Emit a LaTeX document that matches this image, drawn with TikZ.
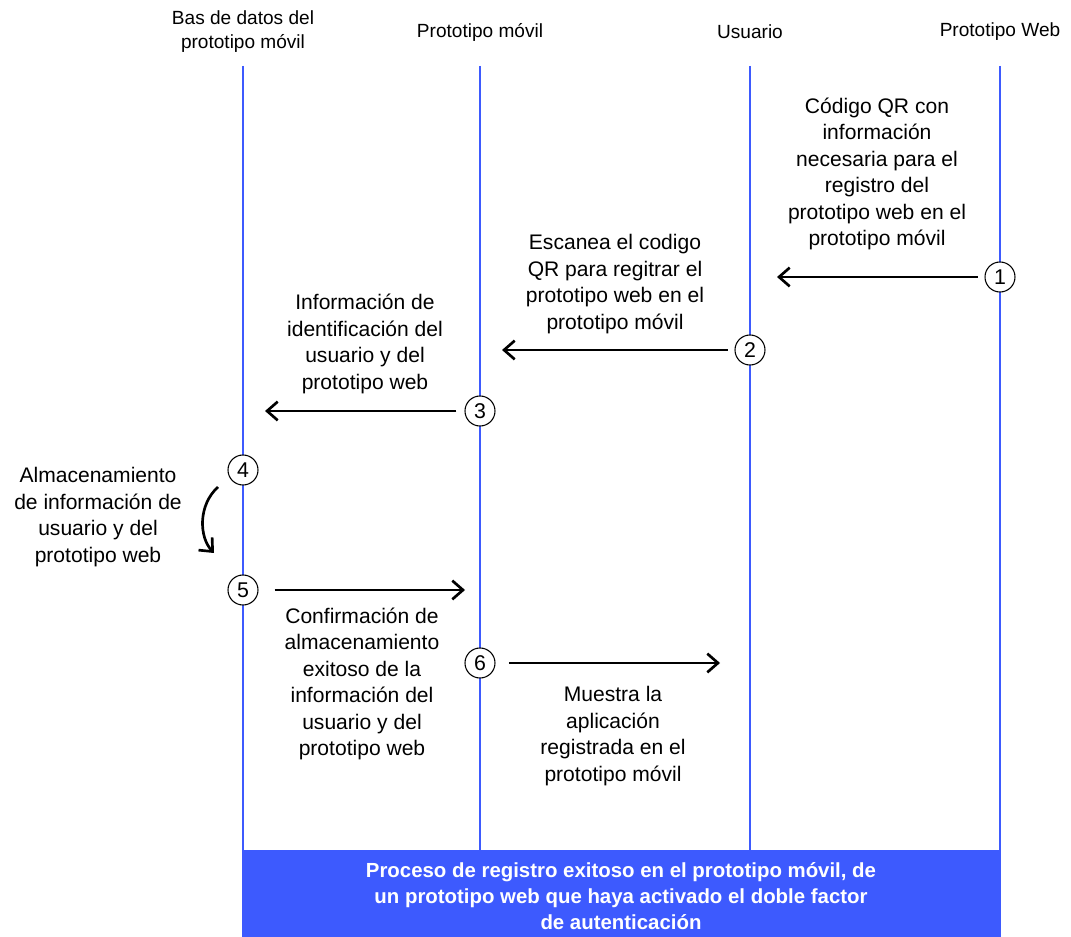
\documentclass[tikz,border=0pt]{standalone}
\usepackage{fontspec}
\setmainfont{Liberation Sans}
\usetikzlibrary{arrows.meta}
\definecolor{laneblue}{HTML}{3D5AFE}
\begin{document}
\begin{tikzpicture}[x=0.75pt,y=-0.75pt,
  lane/.style={draw=laneblue,line width=2.2pt},
  head/.style={font=\fontsize{14.3}{18}\selectfont,align=center,inner sep=0pt},
  note/.style={font=\fontsize{15.8}{19.8}\selectfont,align=center,inner sep=0pt},
  stepnum/.style={circle,draw=black,line width=0.8pt,fill=white,minimum size=30*0.75pt,inner sep=0pt,font=\fontsize{16}{16}\selectfont},
  msg/.style={draw=black,line width=2pt,-{Straight Barb[length=8pt,width=14pt,line width=2pt]}}
]
\useasboundingbox (0,0) rectangle (1071,937);
\fill[white] (0,0) rectangle (1071,937);

% lifelines
\foreach \n/\x in {db/243,mob/480,usr/750,web/1000}{
  \coordinate (\n top) at (\x,66);
  \coordinate (\n bot) at (\x,852);
  \draw[lane] (\n top) -- (\n bot);
}

% headers
\node[head] (hdb) at (243,32) {Bas de datos del\\prototipo móvil};
\node[head] (hmob) at (480,32) {Prototipo móvil};
\node[head] (husr) at (750,32) {Usuario};
\node[head] (hweb) at (1000,32) {Prototipo Web};

% bottom banner
\fill[laneblue] (242,850) rectangle (1001,937);
\node[font=\bfseries\fontsize{15.3}{19.5}\selectfont,text=white,align=center,inner sep=0pt] (banner) at (621,896)
  {Proceso de registro exitoso en el prototipo móvil, de\\un prototipo web que haya activado el doble factor\\de autenticación};

% step markers
\node[stepnum] (s1) at (1000,277) {1};
\node[stepnum] (s2) at (750,350) {2};
\node[stepnum] (s3) at (480,411) {3};
\node[stepnum] (s4) at (243,470) {4};
\node[stepnum] (s5) at (243,590) {5};
\node[stepnum] (s6) at (480,663) {6};

% arrow ends
\coordinate (e1) at (777,277);
\coordinate (e2) at (502,350);
\coordinate (e3) at (265,411);
\coordinate (e5) at (465,590);
\coordinate (e6) at (720,663);
\coordinate (a4) at (218,487);
\coordinate (b4) at (214,553);

% messages
\draw[msg,shorten <=5pt] (s1) -- (e1);
\draw[msg,shorten <=5pt] (s2) -- (e2);
\draw[msg,shorten <=6pt] (s3) -- (e3);
\draw[msg,shorten <=12pt] (s5) -- (e5);
\draw[msg,shorten <=10pt] (s6) -- (e6);
\draw[msg] (a4) .. controls (198,505) and (199,537) .. (b4);

% labels
\node[note] (n1) at (877,174) {Código QR con\\información\\necesaria para el\\registro del\\prototipo web en el\\prototipo móvil};
\node[note] (n2) at (615,284) {Escanea el codigo\\QR para regitrar el\\prototipo web en el\\prototipo móvil};
\node[note] (n3) at (365,344) {Información de\\identificación del\\usuario y del\\prototipo web};
\node[note] (n4) at (98,517) {Almacenamiento\\de información de\\usuario y del\\prototipo web};
\node[note] (n5) at (362,684) {Confirmación de\\almacenamiento\\exitoso de la\\información del\\usuario y del\\prototipo web};
\node[note] (n6) at (613,736) {Muestra la\\aplicación\\registrada en el\\prototipo móvil};
\end{tikzpicture}
\end{document}
